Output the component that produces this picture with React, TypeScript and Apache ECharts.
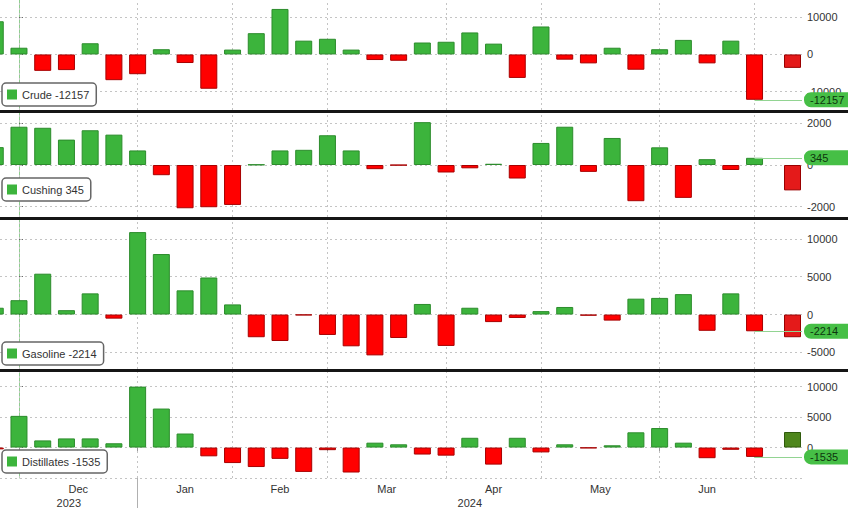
import React, { useEffect, useRef } from 'react';
import * as echarts from 'echarts';

// Week-ending dates of the plotted bars (first one is cut off at the left edge)
const weekEnding = [
  '2023-11-17', '2023-11-24', '2023-12-01', '2023-12-08', '2023-12-15', '2023-12-22', '2023-12-29',
  '2024-01-05', '2024-01-12', '2024-01-19', '2024-01-26', '2024-02-02', '2024-02-09', '2024-02-16',
  '2024-02-23', '2024-03-01', '2024-03-08', '2024-03-15', '2024-03-22', '2024-03-29', '2024-04-05',
  '2024-04-12', '2024-04-19', '2024-04-26', '2024-05-03', '2024-05-10', '2024-05-17', '2024-05-24',
  '2024-05-31', '2024-06-07', '2024-06-14', '2024-06-21', '2024-06-28',
];

const crude = [
  8900, 1800, -4400, -4200, 3000, -6900, -5300, 1400, -2300, -9200, 1300, 5700, 12200, 3700, 4200, 1300,
  -1500, -1700, 3200, 3400, 5900, 2900, -6300, 7500, -1400, -2400, 1800, -4100, 1400, 3900, -2400, 3700, -12157,
];
const cushing = [
  860, 1840, 1790, 1220, 1670, 1460, 700, -490, -2080, -2030, -1920, 20, 700, 730, 1430, 700,
  -200, -10, 2060, -360, -160, 60, -650, 1060, 1840, -330, 1300, -1740, 850, -1580, 280, -240, 345,
];
const gasoline = [
  900, 1900, 5400, 580, 2800, -540, 10900, 8000, 3200, 4900, 1340, -3000, -3500, -100, -2700, -4200,
  -5400, -3100, 1400, -4150, 900, -1000, -450, 450, 1000, -150, -800, 2100, 2200, 2700, -2150, 2800, -2214,
];
const distillates = [
  -300, 5200, 1170, 1500, 1500, 700, 10000, 6400, 2300, -1440, -2550, -3200, -1860, -4000, -430, -4100,
  800, 530, -1150, -1330, 1600, -2800, 1600, -800, 530, -100, 370, 2500, 3200, 800, -1750, -370, -1535,
];

// Extra right-most bar in each panel
const extraValues = { crude: -3600, cushing: -1220, gasoline: -3000, distillates: 2550 };
const extraPosition = 32.6;

// Axis ticks
const monthStarts = [0, 5, 9, 13, 18, 22, 27, 31];
const monthNames = ['Dec', 'Jan', 'Feb', 'Mar', 'Apr', 'May', 'Jun'];
const yearBoundary = 5;
const yearNames = ['2023', '2024'];

const X_MIN = -0.8;
const X_MAX = 33.0;

const FONT = '"Liberation Sans", Arial, sans-serif';
const G = '#3cb43c';
const GB = '#2c8c2c';
const R = '#ff0000';
const RB = '#a80000';

type Panel = {
  name: string;
  values: number[];
  extra: number;
  extraColor: string;
  extraBorder: string;
  top: number;
  height: number;
  min: number;
  max: number;
  grid: number[];
  labels: number[];
  legendTop: number;
};

const panels: Panel[] = [
  {
    name: 'Crude', values: crude, extra: extraValues.crude, extraColor: '#e41a1a', extraBorder: '#9a0000',
    top: 0, height: 110, min: -14900, max: 14600, grid: [-10000, 0, 10000], labels: [-10000, 0, 10000], legendTop: 83,
  },
  {
    name: 'Cushing', values: cushing, extra: extraValues.cushing, extraColor: '#e41a1a', extraBorder: '#9a0000',
    top: 113, height: 104, min: -2500, max: 2500, grid: [-2000, 0, 2000], labels: [-2000, 0, 2000], legendTop: 178,
  },
  {
    name: 'Gasoline', values: gasoline, extra: extraValues.gasoline, extraColor: '#e41a1a', extraBorder: '#9a0000',
    top: 220, height: 149, min: -7200, max: 12500, grid: [-5000, 0, 5000, 10000], labels: [-5000, 0, 5000, 10000], legendTop: 342,
  },
  {
    name: 'Distillates', values: distillates, extra: extraValues.distillates, extraColor: '#4e861c', extraBorder: '#2f5a0c',
    top: 372, height: 107, min: -5000, max: 12400, grid: [-5000, 0, 5000, 10000], labels: [0, 5000, 10000], legendTop: 450,
  },
];

function buildOption() {
  const grids: any[] = [];
  const xAxes: any[] = [];
  const yAxes: any[] = [];
  const series: any[] = [];
  const legends: any[] = [];

  const monthCenters = monthNames.map((_, i) => (monthStarts[i] + monthStarts[i + 1]) / 2);
  const yearCenters = [(X_MIN + yearBoundary) / 2, (yearBoundary + X_MAX) / 2];

  panels.forEach((p, i) => {
    const last = p.values[p.values.length - 1];
    const lastIndex = p.values.length - 2;
    grids.push({ left: 0, right: 46, top: p.top, height: p.height, containLabel: false });
    const isBottom = i === panels.length - 1;
    xAxes.push({
      type: 'value', gridIndex: i, min: X_MIN, max: X_MAX,
      show: isBottom,
      axisLine: { show: false },
      axisTick: isBottom
        ? { show: true, customValues: monthStarts, length: 4, lineStyle: { color: '#999' } }
        : { show: false },
      axisLabel: isBottom
        ? {
            show: true, customValues: monthCenters, margin: 5, fontSize: 11, color: '#333', fontFamily: FONT,
            formatter: (v: number) => {
              const k = monthCenters.findIndex((c) => Math.abs(c - v) < 1e-6);
              return k >= 0 ? monthNames[k] : '';
            },
          }
        : { show: false },
      splitLine: { show: false },
    });
    yAxes.push({
      type: 'value', gridIndex: i, position: 'right', min: p.min, max: p.max,
      axisLine: { show: true, lineStyle: { color: '#8fcf8f', width: 1 } },
      axisTick: { show: true, customValues: p.labels, length: 4, lineStyle: { color: '#666' } },
      axisLabel: {
        show: true, customValues: p.labels, margin: 5, fontSize: 11, color: '#333', fontFamily: FONT,
        formatter: (v: number) => String(v),
      },
      splitLine: { show: false },
    });

    series.push({
      name: p.name,
      type: 'bar',
      xAxisIndex: i,
      yAxisIndex: i,
      barWidth: 17,
      z: 3,
      itemStyle: { color: G },
      data: [
        ...p.values.map((v, k) => ({
          value: [k - 1, v],
          name: weekEnding[k],
          itemStyle: { color: v >= 0 ? G : R, borderColor: v >= 0 ? GB : RB, borderWidth: 1 },
        })),
        {
          value: [extraPosition, p.extra],
          name: 'extra',
          itemStyle: { color: p.extraColor, borderColor: p.extraBorder, borderWidth: 1 },
        },
      ],
      markLine: {
        silent: true,
        symbol: 'none',
        z: 1,
        animation: false,
        label: { show: false },
        lineStyle: { color: '#c4c4c4', type: [2, 3], width: 1 },
        data: [
          ...p.grid.map((g) => ({ yAxis: g })),
          ...monthStarts.map((m) => ({ xAxis: m })),
        ],
      },
    });

    series.push({
      name: p.name + ' last',
      type: 'line',
      xAxisIndex: i,
      yAxisIndex: i,
      symbol: 'none',
      lineStyle: { opacity: 0 },
      data: [[X_MIN, 0]],
      z: 5,
      markLine: {
        silent: true,
        symbol: 'none',
        z: 10,
        animation: false,
        lineStyle: { color: '#92d492', type: 'solid', width: 1 },
        label: {
          show: true,
          position: 'end',
          distance: 2,
          formatter: String(last),
          backgroundColor: '#46bf46',
          color: '#0d360d',
          fontSize: 11,
          fontFamily: FONT,
          padding: [2, 4, 2, 6],
          borderRadius: [7, 0, 0, 7],
          width: 38,
          align: 'left',
        },
        data: [[{ coord: [lastIndex, last] }, { coord: [X_MAX, last] }]],
      },
    });

    legends.push({
      data: [{ name: p.name, itemStyle: { color: G } }],
      left: 2,
      top: p.legendTop,
      backgroundColor: '#fff',
      borderColor: '#666',
      borderWidth: 1.5,
      borderRadius: 4,
      padding: [6, 7, 6, 5],
      itemWidth: 10,
      itemHeight: 10,
      itemGap: 0,
      icon: 'rect',
      selectedMode: false,
      z: 20,
      textStyle: { fontSize: 11, color: '#333', fontFamily: FONT },
      formatter: () => `${p.name} ${last}`,
    });
  });

  const bottom = panels.length - 1;
  xAxes.push({
    type: 'value', gridIndex: bottom, min: X_MIN, max: X_MAX, position: 'bottom', offset: 14,
    axisLine: { show: false },
    axisTick: { show: false },
    splitLine: { show: false },
    axisLabel: {
      show: true, customValues: yearCenters, margin: 5, fontSize: 11, color: '#333', fontFamily: FONT,
      formatter: (v: number) => {
        const k = yearCenters.findIndex((c) => Math.abs(c - v) < 1e-6);
        return k >= 0 ? yearNames[k] : '';
      },
    },
  });
  xAxes.push({
    type: 'value', gridIndex: bottom, min: X_MIN, max: X_MAX, position: 'bottom',
    axisLine: { show: false },
    axisTick: { show: true, customValues: [yearBoundary], length: 30, lineStyle: { color: '#b0b0b0' } },
    axisLabel: { show: false },
    splitLine: { show: false },
  });

  const separators = [110, 217, 369].map((y) => ({
    type: 'rect',
    shape: { x: 0, y, width: 848, height: 3 },
    style: { fill: '#151515' },
    z: 100,
    silent: true,
  }));

  return {
    animation: false,
    backgroundColor: '#ffffff',
    textStyle: { fontFamily: FONT },
    grid: grids,
    xAxis: xAxes,
    yAxis: yAxes,
    legend: legends,
    series,
    graphic: separators,
  };
}

export default function App() {
  const ref = useRef<HTMLDivElement>(null);
  useEffect(() => {
    if (!ref.current) return;
    const chart = echarts.init(ref.current, undefined, { renderer: 'svg' });
    chart.setOption(buildOption() as any);
    return () => chart.dispose();
  }, []);
  return (
    <div
      ref={ref}
      style={{ position: 'fixed', left: 0, top: 0, width: 848, height: 508, background: '#fff' }}
    />
  );
}
